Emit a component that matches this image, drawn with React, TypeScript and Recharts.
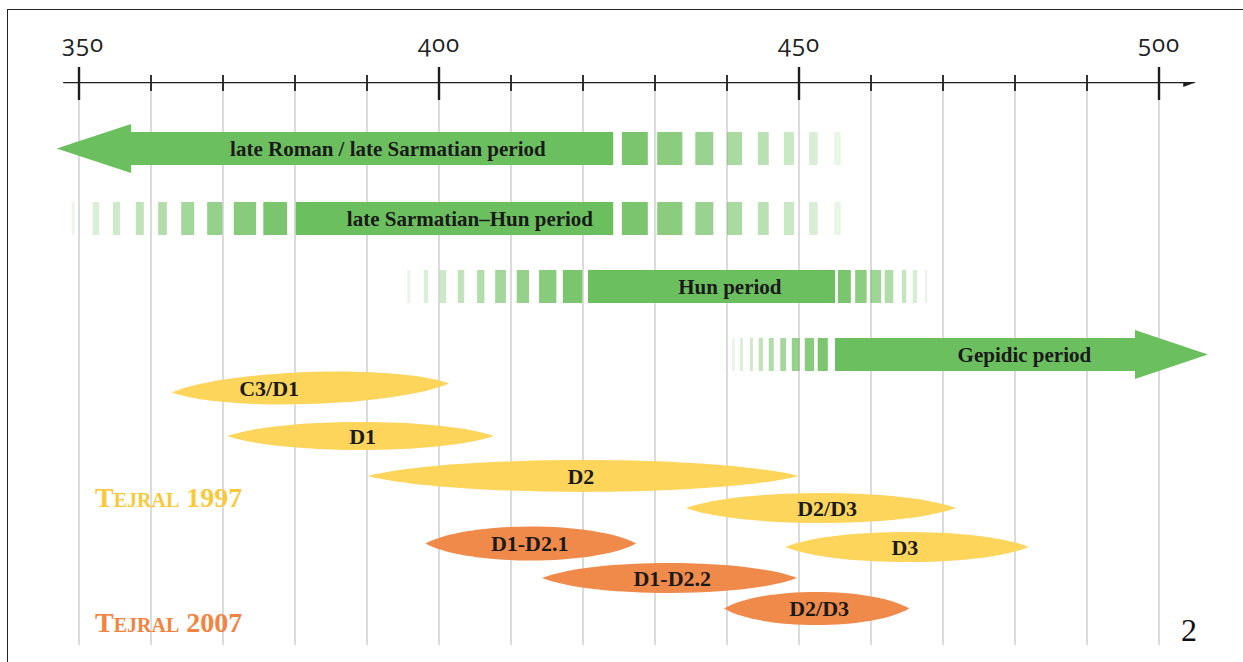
import {
  ComposedChart,
  Line,
  XAxis,
  YAxis,
  CartesianGrid,
  ReferenceArea,
  ReferenceDot,
} from "recharts";

// ---- data (years AD) ----
const YEAR_TICKS = [350, 360, 370, 380, 390, 400, 410, 420, 430, 440, 450, 460, 470, 480, 490, 500];
const MAJOR_TICKS = [350, 400, 450, 500];
const AXIS_FROM = 347.8;
const AXIS_TO = 504.9;

// green period bars
const PERIOD_NAMES = [
  "late Roman / late Sarmatian period",
  "late Sarmatian–Hun period",
  "Hun period",
  "Gepidic period",
];
const PERIOD_START = [357.1, 380.1, 420.7, 455.0];
const PERIOD_END = [424.2, 424.2, 455.0, 496.8];
const PERIOD_LABEL_AT = [392.9, 404.3, 440.4, 481.3];
const ROMAN_ARROW_TIP = 346.9; // open towards earlier dates
const GEPIDIC_ARROW_TIP = 506.8; // open towards later dates

// uncertain beginnings / endings, drawn as fading dashes [from, to]
const FADE_IN: number[][][] = [
  [],
  [[349.0, 349.4], [351.9, 352.8], [354.7, 355.7], [357.9, 359.0], [361.0, 362.2], [364.2, 366.0], [367.8, 369.9], [371.5, 374.6], [375.6, 378.9]],
  [[395.6, 396.0], [397.9, 398.5], [400.1, 401.0], [402.6, 403.5], [405.3, 406.3], [407.8, 409.3], [410.8, 412.5], [413.9, 416.3], [417.2, 419.9]],
  [[440.7, 441.1], [441.8, 442.2], [443.2, 443.6], [444.4, 445.0], [445.8, 446.5], [447.4, 448.2], [449.0, 450.1], [450.8, 452.1], [452.6, 454.0]],
];
const FADE_OUT: number[][][] = [
  [[425.4, 429.0], [430.3, 433.8], [435.6, 438.1], [440.0, 442.1], [444.3, 445.8], [447.9, 449.3], [451.4, 452.6], [454.9, 455.8]],
  [[425.4, 429.0], [430.3, 433.8], [435.6, 438.1], [440.0, 442.1], [444.3, 445.8], [447.9, 449.3], [451.4, 452.6], [454.9, 455.8]],
  [[455.4, 457.2], [457.8, 459.4], [459.9, 461.4], [461.9, 463.1], [464.3, 464.9], [465.8, 466.4], [467.5, 467.8]],
  [],
];

// chronological phases
const PHASE_NAMES = ["C3/D1", "D1", "D2", "D2/D3", "D3", "D1-D2.1", "D1-D2.2", "D2/D3"];
const PHASE_START = [362.9, 370.6, 390.1, 434.3, 448.1, 398.1, 414.3, 439.6];
const PHASE_END = [401.4, 407.6, 450.0, 471.8, 481.9, 427.4, 449.7, 465.3];
const PHASE_LABEL_AT = [376.4, 389.4, 419.7, 453.9, 464.7, 412.6, 432.4, 452.8];
const PHASE_SOURCE = ["Tejral 1997", "Tejral 1997", "Tejral 1997", "Tejral 1997", "Tejral 1997", "Tejral 2007", "Tejral 2007", "Tejral 2007"];

// ---- layout (vertical lanes, in chart units) ----
const AXIS_ROW = 0;
const PERIOD_ROW = [6.65, 13.65, 20.45, 27.25];
const BAR_HALF = 1.65;
const HEAD_HALF = 2.45;
const PHASE_ROW = [30.6, 35.4, 39.4, 42.6, 46.5, 46.15, 49.6, 52.65];
const PHASE_HALF = [1.6, 1.4, 1.6, 1.5, 1.5, 1.7, 1.5, 1.65];
const PHASE_TILT = [9, 0, 0, 0, 0, 0, 0, 0];

const GREEN = "#6cbf5e";
const SOURCE_COLOR: Record<string, string> = {
  "Tejral 1997": "#fdd55b",
  "Tejral 2007": "#f08a4b",
};
const LEGEND_COLOR: Record<string, string> = {
  "Tejral 1997": "#f9c93c",
  "Tejral 2007": "#f2843f",
};
const SERIF = "'Liberation Serif', 'DejaVu Serif', serif";

const axisLineData = [
  { year: AXIS_FROM, lane: AXIS_ROW },
  { year: AXIS_TO, lane: AXIS_ROW },
];

const YearTick = (p: any) => {
  const { x, y, payload } = p;
  const major = MAJOR_TICKS.includes(payload.value);
  return (
    <g>
      <line
        x1={x}
        x2={x}
        y1={major ? y - 15 : y - 7}
        y2={major ? y + 18 : y + 9}
        stroke="#1e1e1e"
        strokeWidth={major ? 2.4 : 1.8}
      />
      {major && (
        <text
          x={x + (payload.value === 350 ? 4 : 0)}
          y={y - 30}
          textAnchor="middle"
          fontFamily="'Open Sans', Lato, sans-serif"
          fontSize={24}
          letterSpacing={1}
          fill="#222"
          style={{ fontVariantNumeric: "oldstyle-nums" }}
        >
          {payload.value}
        </text>
      )}
    </g>
  );
};

const lensShape = (fill: string, tilt: number) => (p: any) => {
  const { x, y, width: w, height: h } = p;
  const cy = y + h / 2;
  const k = h / 2 / 0.75;
  const a = 0.2;
  const b = 0.8;
  const d = `M${x},${cy + tilt / 2} C${x + w * a},${cy + tilt * (0.5 - a) - k} ${x + w * b},${cy + tilt * (0.5 - b) - k} ${x + w},${cy - tilt / 2} C${x + w * b},${cy + tilt * (0.5 - b) + k} ${x + w * a},${cy + tilt * (0.5 - a) + k} ${x},${cy + tilt / 2} Z`;
  return <path d={d} fill={fill} />;
};

const headLeft = (p: any) => {
  const { x, y, width: w, height: h } = p;
  return <path d={`M${x},${y + h / 2} L${x + w + 1},${y} L${x + w + 1},${y + h} Z`} fill={GREEN} />;
};

const headRight = (p: any) => {
  const { x, y, width: w, height: h } = p;
  return <path d={`M${x - 1},${y} L${x + w},${y + h / 2} L${x - 1},${y + h} Z`} fill={GREEN} />;
};

// arrow tip sits on the last point of the axis line
const AxisDot = (p: any) => {
  if (p.index !== axisLineData.length - 1) return null;
  return <path d={`M${p.cx + 2},${p.cy} L${p.cx - 11},${p.cy - 5} L${p.cx - 11},${p.cy + 5} Z`} fill="#1e1e1e" />;
};

const label = (text: string, size: number) => (p: any) => (
  <text
    x={p.cx}
    y={p.cy}
    textAnchor="middle"
    dominantBaseline="central"
    fontFamily={SERIF}
    fontWeight="bold"
    fontSize={size}
    fill="#1a1a1a"
  >
    {text}
  </text>
);

// opacity of the nth dash counted away from the solid bar
const fadeOpacity = (n: number, count: number) => 0.9 - (0.75 * n) / Math.max(count - 1, 1);

export default function App() {
  return (
    <div style={{ position: "absolute", left: 0, top: 0, width: 1243, height: 662, background: "#fff" }}>
      <ComposedChart
        width={1243}
        height={662}
        margin={{ top: 52, right: 12, bottom: 17, left: 7 }}
        style={{ position: "absolute", left: 0, top: 0 }}
      >
        <CartesianGrid horizontal={false} stroke="#d2d2d2" strokeWidth={1.6} verticalValues={YEAR_TICKS} />
        <XAxis
          type="number"
          dataKey="year"
          orientation="top"
          domain={[340, 510]}
          allowDataOverflow
          ticks={YEAR_TICKS}
          interval={0}
          height={30}
          axisLine={false}
          tickLine={false}
          tickSize={0}
          tickMargin={0}
          tick={<YearTick />}
        />
        <YAxis type="number" dataKey="lane" domain={[0, 56.3]} reversed hide width={0} allowDataOverflow />

        {/* periods */}
        {PERIOD_NAMES.map((name, i) => (
          <ReferenceArea
            key={`body-${i}`}
            x1={PERIOD_START[i]}
            x2={PERIOD_END[i]}
            y1={PERIOD_ROW[i] - BAR_HALF}
            y2={PERIOD_ROW[i] + BAR_HALF}
            fill={GREEN}
            fillOpacity={1}
            stroke="none"
            ifOverflow="visible"
          />
        ))}
        <ReferenceArea
          x1={ROMAN_ARROW_TIP}
          x2={PERIOD_START[0]}
          y1={PERIOD_ROW[0] - HEAD_HALF}
          y2={PERIOD_ROW[0] + HEAD_HALF}
          shape={headLeft}
          ifOverflow="visible"
        />
        <ReferenceArea
          x1={PERIOD_END[3]}
          x2={GEPIDIC_ARROW_TIP}
          y1={PERIOD_ROW[3] - HEAD_HALF}
          y2={PERIOD_ROW[3] + HEAD_HALF}
          shape={headRight}
          ifOverflow="visible"
        />
        {FADE_IN.map((dashes, i) =>
          dashes.map(([a, b], j) => (
            <ReferenceArea
              key={`in-${i}-${j}`}
              x1={a}
              x2={b}
              y1={PERIOD_ROW[i] - BAR_HALF}
              y2={PERIOD_ROW[i] + BAR_HALF}
              fill={GREEN}
              fillOpacity={fadeOpacity(dashes.length - 1 - j, dashes.length)}
              stroke="none"
              ifOverflow="visible"
            />
          ))
        )}
        {FADE_OUT.map((dashes, i) =>
          dashes.map(([a, b], j) => (
            <ReferenceArea
              key={`out-${i}-${j}`}
              x1={a}
              x2={b}
              y1={PERIOD_ROW[i] - BAR_HALF}
              y2={PERIOD_ROW[i] + BAR_HALF}
              fill={GREEN}
              fillOpacity={fadeOpacity(j, dashes.length)}
              stroke="none"
              ifOverflow="visible"
            />
          ))
        )}
        {PERIOD_NAMES.map((name, i) => (
          <ReferenceDot
            key={`plabel-${i}`}
            x={PERIOD_LABEL_AT[i]}
            y={PERIOD_ROW[i]}
            r={1}
            shape={label(name, 21)}
            ifOverflow="visible"
          />
        ))}

        {/* phases */}
        {PHASE_NAMES.map((name, i) => (
          <ReferenceArea
            key={`phase-${i}`}
            x1={PHASE_START[i]}
            x2={PHASE_END[i]}
            y1={PHASE_ROW[i] - PHASE_HALF[i]}
            y2={PHASE_ROW[i] + PHASE_HALF[i]}
            shape={lensShape(SOURCE_COLOR[PHASE_SOURCE[i]], PHASE_TILT[i])}
            ifOverflow="visible"
          />
        ))}
        {PHASE_NAMES.map((name, i) => (
          <ReferenceDot
            key={`phlabel-${i}`}
            x={PHASE_LABEL_AT[i]}
            y={PHASE_ROW[i]}
            r={1}
            shape={label(name, 22)}
            ifOverflow="visible"
          />
        ))}

        {/* time axis with arrow */}
        <Line
          data={axisLineData}
          dataKey="lane"
          stroke="#1e1e1e"
          strokeWidth={2.6}
          dot={<AxisDot />}
          activeDot={false}
          isAnimationActive={false}
        />
      </ComposedChart>

      {/* frame */}
      <div
        style={{
          position: "absolute",
          left: 7,
          top: 9,
          width: 1236,
          height: 653,
          borderTop: "1.6px solid #222",
          borderLeft: "1.6px solid #222",
          pointerEvents: "none",
        }}
      />

      {/* source legend */}
      {["Tejral 1997", "Tejral 2007"].map((src, i) => (
        <div
          key={src}
          style={{
            position: "absolute",
            left: 95,
            top: i === 0 ? 484 : 609,
            fontFamily: SERIF,
            fontWeight: "bold",
            fontSize: 28,
            lineHeight: 1,
            fontVariant: "small-caps",
            color: LEGEND_COLOR[src],
            whiteSpace: "nowrap",
          }}
        >
          {src}
        </div>
      ))}
      <div
        style={{
          position: "absolute",
          left: 1169,
          top: 614,
          width: 40,
          textAlign: "center",
          fontFamily: SERIF,
          fontSize: 32,
          lineHeight: 1,
          color: "#111",
        }}
      >
        2
      </div>
    </div>
  );
}
